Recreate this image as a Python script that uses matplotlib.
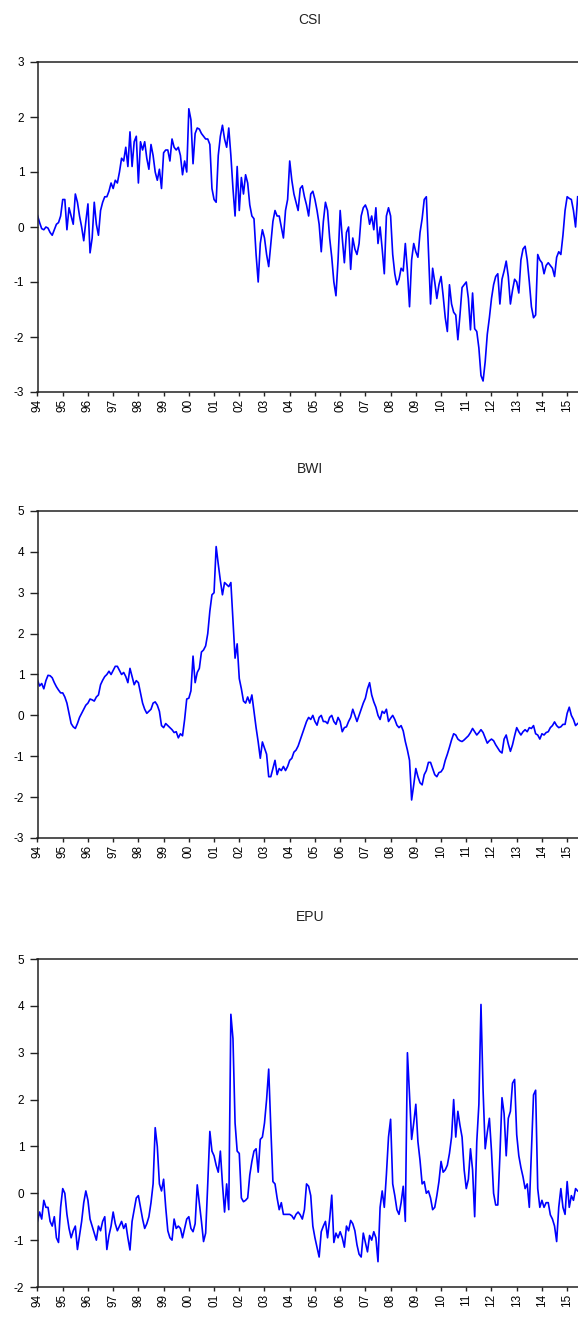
import matplotlib
matplotlib.use("Agg")
import matplotlib.pyplot as plt
import numpy as np

plt.rcParams['font.family'] = ['Liberation Sans', 'DejaVu Sans']
plt.rcParams['axes.unicode_minus'] = False

start_year = 1994
year_labels = ["94", "95", "96", "97", "98", "99", "00", "01", "02", "03", "04",
               "05", "06", "07", "08", "09", "10", "11", "12", "13", "14", "15"]

csi = [
    0.21, 0.08, -0.03, -0.05, 0.0, -0.02, -0.1, -0.15, -0.05, 0.05, 0.08, 0.2,      # 1994
    0.5, 0.5, -0.05, 0.35, 0.2, 0.05, 0.6, 0.45, 0.2, 0.0, -0.25, 0.1,              # 1995
    0.42, -0.47, -0.2, 0.45, 0.05, -0.15, 0.3, 0.45, 0.55, 0.55, 0.65, 0.8,         # 1996
    0.7, 0.85, 0.8, 1.0, 1.25, 1.2, 1.45, 1.1, 1.73, 1.1, 1.55, 1.65,               # 1997
    0.8, 1.55, 1.4, 1.55, 1.25, 1.05, 1.5, 1.3, 1.0, 0.85, 1.05, 0.7,               # 1998
    1.35, 1.4, 1.4, 1.2, 1.6, 1.45, 1.4, 1.45, 1.3, 0.95, 1.2, 1.0,                 # 1999
    2.15, 1.95, 1.15, 1.7, 1.8, 1.78, 1.7, 1.65, 1.6, 1.6, 1.5, 0.7,                # 2000
    0.5, 0.45, 1.3, 1.65, 1.85, 1.6, 1.45, 1.8, 1.3, 0.7, 0.2, 1.1,                 # 2001
    0.3, 0.9, 0.6, 0.95, 0.8, 0.4, 0.2, 0.15, -0.5, -1.0, -0.3, -0.05,              # 2002
    -0.2, -0.5, -0.72, -0.3, 0.1, 0.3, 0.2, 0.2, 0.0, -0.2, 0.3, 0.5,               # 2003
    1.2, 0.85, 0.6, 0.45, 0.3, 0.7, 0.75, 0.55, 0.4, 0.2, 0.6, 0.65,                # 2004
    0.5, 0.3, 0.05, -0.45, 0.1, 0.45, 0.3, -0.2, -0.55, -1.0, -1.25, -0.6,          # 2005
    0.3, -0.2, -0.65, -0.1, 0.0, -0.77, -0.2, -0.4, -0.5, -0.3, 0.2, 0.35,          # 2006
    0.4, 0.3, 0.05, 0.2, -0.05, 0.35, -0.3, 0.0, -0.4, -0.85, 0.2, 0.35,            # 2007
    0.2, -0.5, -0.85, -1.05, -0.95, -0.75, -0.8, -0.3, -0.8, -1.45, -0.6, -0.3,     # 2008
    -0.45, -0.55, -0.1, 0.15, 0.5, 0.55, -0.4, -1.4, -0.75, -1.0, -1.3, -1.05,      # 2009
    -0.9, -1.25, -1.65, -1.9, -1.05, -1.4, -1.55, -1.6, -2.05, -1.6, -1.1, -1.05,   # 2010
    -1.0, -1.3, -1.87, -1.2, -1.85, -1.9, -2.2, -2.7, -2.8, -2.45, -1.95, -1.65,    # 2011
    -1.3, -1.05, -0.9, -0.85, -1.4, -0.95, -0.8, -0.62, -0.9, -1.4, -1.15, -0.95,   # 2012
    -1.0, -1.2, -0.6, -0.4, -0.35, -0.6, -1.0, -1.45, -1.65, -1.6, -0.5, -0.6,      # 2013
    -0.65, -0.85, -0.7, -0.65, -0.7, -0.75, -0.9, -0.55, -0.45, -0.5, -0.15, 0.3,   # 2014
    0.55, 0.52, 0.5, 0.3, 0.0, 0.55,                                                # 2015
]

bwi = [
    0.86, 0.72, 0.78, 0.65, 0.85, 0.98, 0.97, 0.92, 0.8, 0.7, 0.62, 0.55,           # 1994
    0.55, 0.45, 0.3, 0.05, -0.2, -0.28, -0.32, -0.2, -0.05, 0.05, 0.15, 0.25,       # 1995
    0.3, 0.4, 0.38, 0.35, 0.45, 0.5, 0.75, 0.86, 0.95, 1.0, 1.08, 1.0,              # 1996
    1.1, 1.2, 1.2, 1.1, 1.0, 1.05, 0.95, 0.8, 1.15, 0.95, 0.75, 0.85,               # 1997
    0.8, 0.55, 0.3, 0.15, 0.05, 0.1, 0.15, 0.3, 0.33, 0.25, 0.1, -0.25,             # 1998
    -0.3, -0.2, -0.25, -0.3, -0.35, -0.42, -0.4, -0.55, -0.45, -0.5, -0.1, 0.4,     # 1999
    0.42, 0.6, 1.45, 0.8, 1.05, 1.15, 1.55, 1.6, 1.7, 2.0, 2.55, 2.95,              # 2000
    3.0, 4.13, 3.7, 3.3, 2.95, 3.25, 3.2, 3.15, 3.25, 2.3, 1.4, 1.75,               # 2001
    0.9, 0.65, 0.35, 0.3, 0.45, 0.3, 0.5, 0.1, -0.3, -0.65, -1.05, -0.65,           # 2002
    -0.8, -0.95, -1.5, -1.5, -1.3, -1.1, -1.45, -1.3, -1.35, -1.25, -1.35, -1.25,   # 2003
    -1.1, -1.05, -0.9, -0.85, -0.75, -0.6, -0.45, -0.3, -0.15, -0.05, -0.1, 0.0,    # 2004
    -0.15, -0.24, -0.05, 0.0, -0.15, -0.15, -0.2, -0.05, 0.0, -0.15, -0.22, -0.05,  # 2005
    -0.15, -0.4, -0.3, -0.28, -0.15, -0.05, 0.15, 0.0, -0.15, 0.0, 0.15, 0.3,       # 2006
    0.42, 0.65, 0.8, 0.5, 0.33, 0.2, 0.0, -0.1, 0.1, 0.05, 0.15, -0.15,             # 2007
    -0.07, 0.0, -0.1, -0.24, -0.3, -0.25, -0.38, -0.64, -0.85, -1.1, -2.07, -1.7,   # 2008
    -1.3, -1.5, -1.65, -1.7, -1.45, -1.35, -1.15, -1.15, -1.3, -1.45, -1.5, -1.4,   # 2009
    -1.38, -1.3, -1.1, -0.95, -0.78, -0.6, -0.45, -0.48, -0.58, -0.62, -0.64, -0.6, # 2010
    -0.55, -0.5, -0.42, -0.32, -0.4, -0.48, -0.42, -0.35, -0.42, -0.55, -0.68, -0.62, # 2011
    -0.58, -0.62, -0.72, -0.8, -0.88, -0.92, -0.58, -0.48, -0.7, -0.88, -0.72, -0.5,  # 2012
    -0.3, -0.4, -0.48, -0.4, -0.35, -0.4, -0.3, -0.32, -0.25, -0.45, -0.48, -0.58,    # 2013
    -0.45, -0.48, -0.42, -0.4, -0.3, -0.25, -0.16, -0.25, -0.3, -0.28, -0.22, -0.22,  # 2014
    0.05, 0.2, 0.0, -0.1, -0.25, -0.2,                                                # 2015
]

epu = [
    -0.6, -0.4, -0.55, -0.15, -0.3, -0.3, -0.6, -0.7, -0.5, -0.95, -1.05, -0.3,     # 1994
    0.1, 0.0, -0.45, -0.75, -0.95, -0.8, -0.7, -1.2, -0.9, -0.6, -0.2, 0.05,        # 1995
    -0.15, -0.55, -0.7, -0.85, -1.0, -0.7, -0.8, -0.6, -0.5, -1.2, -0.9, -0.7,      # 1996
    -0.4, -0.65, -0.8, -0.7, -0.6, -0.75, -0.65, -0.95, -1.21, -0.6, -0.35, -0.1,   # 1997
    -0.05, -0.3, -0.55, -0.75, -0.65, -0.5, -0.2, 0.2, 1.4, 1.0, 0.2, 0.05,         # 1998
    0.3, -0.3, -0.8, -0.95, -1.0, -0.55, -0.75, -0.7, -0.75, -0.95, -0.75, -0.55,   # 1999
    -0.5, -0.75, -0.82, -0.65, 0.18, -0.2, -0.6, -1.03, -0.85, 0.2, 1.32, 0.9,      # 2000
    0.8, 0.6, 0.45, 0.9, 0.2, -0.4, 0.2, -0.35, 3.82, 3.3, 1.5, 0.9,                # 2001
    0.85, -0.1, -0.18, -0.15, -0.1, 0.39, 0.68, 0.9, 0.95, 0.45, 1.15, 1.2,         # 2002
    1.5, 2.0, 2.65, 1.4, 0.25, 0.2, -0.1, -0.35, -0.2, -0.45, -0.45, -0.45,         # 2003
    -0.45, -0.48, -0.55, -0.45, -0.4, -0.46, -0.55, -0.35, 0.2, 0.15, -0.05, -0.7,  # 2004
    -0.95, -1.15, -1.36, -0.82, -0.7, -0.6, -0.95, -0.55, -0.04, -1.05, -0.85, -0.95, # 2005
    -0.82, -0.95, -1.15, -0.7, -0.8, -0.58, -0.65, -0.8, -1.1, -1.3, -1.36, -0.85,    # 2006
    -1.05, -1.25, -0.9, -1.0, -0.82, -0.95, -1.46, -0.3, 0.05, -0.3, 0.4, 1.2,        # 2007
    1.58, 0.2, -0.05, -0.35, -0.45, -0.2, 0.15, -0.6, 3.0, 2.1, 1.15, 1.5,            # 2008
    1.9, 1.1, 0.7, 0.2, 0.25, 0.0, 0.05, -0.1, -0.35, -0.3, -0.05, 0.25,              # 2009
    0.68, 0.45, 0.5, 0.6, 0.85, 1.2, 2.0, 1.2, 1.75, 1.45, 1.2, 0.5,                  # 2010
    0.1, 0.3, 0.95, 0.5, -0.5, 1.1, 1.9, 4.03, 2.2, 0.95, 1.3, 1.6,                   # 2011
    0.9, 0.0, -0.25, -0.25, 0.8, 2.04, 1.7, 0.8, 1.6, 1.75, 2.35, 2.43,               # 2012
    1.25, 0.8, 0.55, 0.35, 0.1, 0.2, -0.3, 0.9, 2.1, 2.2, 0.1, -0.3,                  # 2013
    -0.15, -0.3, -0.2, -0.2, -0.46, -0.55, -0.7, -1.03, -0.3, 0.1, -0.3, -0.45,       # 2014
    0.25, -0.3, -0.05, -0.15, 0.1, 0.05,                                              # 2015
]

panels = [
    ("CSI", csi, (-3, 3), [-3, -2, -1, 0, 1, 2, 3], 62, 392),
    ("BWI", bwi, (-3, 5), [-3, -2, -1, 0, 1, 2, 3, 4, 5], 511, 838),
    ("EPU", epu, (-2, 5), [-2, -1, 0, 1, 2, 3, 4, 5], 959, 1287),
]

W, H = 578, 1318
fig = plt.figure(figsize=(W / 100, H / 100), dpi=100)
left_px = 37.5
x_right = 2015.43
year_ticks = np.arange(start_year, start_year + len(year_labels))

for title, series, ylim, yticks, top_px, bot_px in panels:
    ax = fig.add_axes([left_px / W, 1 - bot_px / H, 1 - left_px / W, (bot_px - top_px) / H])
    x = start_year + np.arange(len(series)) / 12.0
    ax.plot(x, series, color="#0000FF", lw=1.2)
    ax.set_xlim(start_year, x_right)
    ax.set_ylim(*ylim)
    ax.set_yticks(yticks)
    ax.set_yticklabels([str(v) for v in yticks])
    ax.set_xticks(year_ticks)
    ax.set_xticklabels(year_labels, rotation=90)
    ax.spines['right'].set_visible(False)
    for s in ['left', 'top', 'bottom']:
        ax.spines[s].set_linewidth(1.1)
        ax.spines[s].set_color("#222222")
    ax.tick_params(axis='y', direction='out', length=5.5, width=1.0, pad=4,
                   labelsize=8.5, color="#222222")
    ax.tick_params(axis='x', direction='out', length=3.2, width=1.0, pad=1.5,
                   labelsize=8.5, color="#222222")
    fig.text(310 / W, 1 - (top_px - 42) / H, title, ha='center', va='center',
             fontsize=10, color="#222222")

fig.savefig("out.png", dpi=100)
